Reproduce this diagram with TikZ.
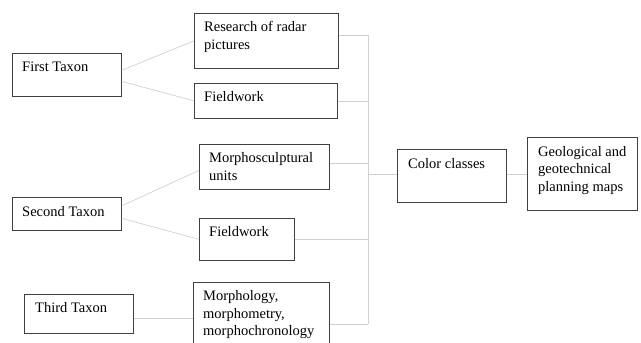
\documentclass[tikz,border=0pt]{standalone}
\usepackage{fontspec}
\setmainfont{Liberation Serif}
\usetikzlibrary{positioning}

\begin{document}
\begin{tikzpicture}[x=1pt, y=-1pt,
  box/.style={draw=black!75, line width=0.7pt, anchor=north west, inner sep=0pt},
  txt/.style={inner sep=0pt, align=left, font=\fontsize{14.5}{17.5}\selectfont},
  link/.style={draw=black!18, line width=0.7pt}]
  \useasboundingbox (0,0) rectangle (641,343);
  % First Taxon
  \node[box, minimum width=109pt, minimum height=43pt] (t1) at (12,53) {};
  \node[txt, below right=9pt and 10pt of t1.north west] (t1txt) {First Taxon};
  \node[box, minimum width=144pt, minimum height=55pt] (r1) at (194,13) {};
  \node[txt, below right=8.5pt and 10pt of r1.north west] (r1txt) {Research of radar\\pictures};
  \node[box, minimum width=143pt, minimum height=35pt] (f1) at (194,83) {};
  \node[txt, below right=8.5pt and 10pt of f1.north west] (f1txt) {Fieldwork};
  % Second Taxon
  \node[box, minimum width=109pt, minimum height=33pt] (t2) at (12,197) {};
  \node[txt, below right=9pt and 10pt of t2.north west] (t2txt) {Second Taxon};
  \node[box, minimum width=130pt, minimum height=45pt] (m1) at (199,144) {};
  \node[txt, below right=8.5pt and 10pt of m1.north west] (m1txt) {Morphosculptural\\units};
  \node[box, minimum width=95pt, minimum height=42pt] (f2) at (199,218) {};
  \node[txt, below right=8.5pt and 10pt of f2.north west] (f2txt) {Fieldwork};
  % Third Taxon
  \node[box, minimum width=109pt, minimum height=39pt] (t3) at (24,294) {};
  \node[txt, below right=8.5pt and 11pt of t3.north west] (t3txt) {Third Taxon};
  \node[box, minimum width=136pt, minimum height=66pt] (m2) at (193,282) {};
  \node[txt, below right=8.5pt and 10pt of m2.north west] (m2txt) {Morphology,\\morphometry,\\morphochronology};
  % Results
  \node[box, minimum width=109pt, minimum height=53pt] (cc) at (397,149) {};
  \node[txt, below right=9pt and 11pt of cc.north west] (cctxt) {Color classes};
  \node[box, minimum width=110pt, minimum height=73pt] (g) at (527,137) {};
  \node[txt, below right=9pt and 11pt of g.north west] (gtxt) {Geological and\\geotechnical\\planning maps};
  % Taxa to methods
  \draw[link] ([yshift=4.5pt]t1.east) -- (r1.west);
  \draw[link] ([yshift=-6.5pt]t1.east) -- (f1.west);
  \draw[link] ([yshift=8pt]t2.east) -- ([yshift=-3.5pt]m1.west);
  \draw[link] ([yshift=-4.5pt]t2.east) -- (f2.west);
  \coordinate (t3e) at ([yshift=-4.5pt]t3.east);
  \draw[link] (t3e) -- (t3e -| m2.west);
  % Bus
  \coordinate (bustop) at (368,35);
  \coordinate (busbot) at (368,324);
  \draw[link] (bustop) -- (busbot);
  \draw[link] (r1.east |- bustop) -- (bustop);
  \draw[link] (f1.east) -- (f1.east -| bustop);
  \coordinate (m1e) at ([yshift=3.5pt]m1.east);
  \draw[link] (m1e) -- (m1e -| bustop);
  \draw[link] (f2.east) -- (f2.east -| bustop);
  \draw[link] (m2.east |- busbot) -- (busbot);
  % Bus to results
  \coordinate (ccw) at (cc.west |- g.west);
  \draw[link] (ccw -| bustop) -- (ccw);
  \draw[link] (cc.east |- g.west) -- (g.west);
\end{tikzpicture}
\end{document}
